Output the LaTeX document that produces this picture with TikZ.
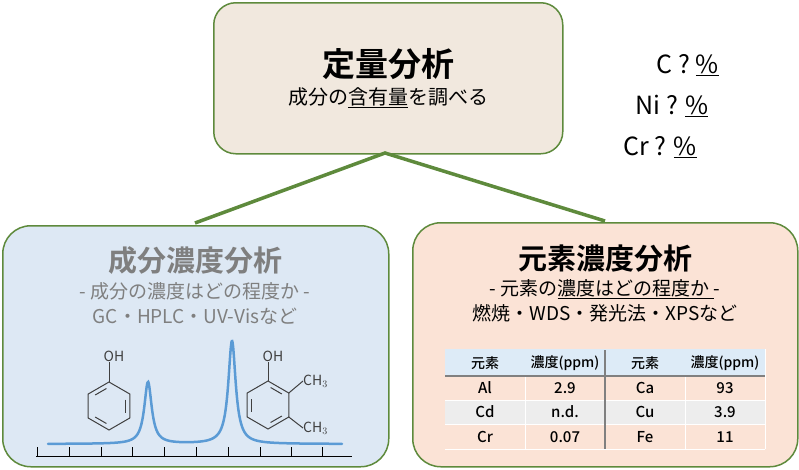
\documentclass[tikz,border=0pt]{standalone}
\usepackage{fontspec}
\setmainfont{Noto Sans CJK JP}[BoldFont={Noto Sans CJK JP Bold}]
\newfontfamily\jpm{Noto Sans CJK JP Medium}
\usetikzlibrary{calc}
\definecolor{gbord}{HTML}{5E8A3C}
\definecolor{beige}{HTML}{F1E8DE}
\definecolor{lblue}{HTML}{DDE8F4}
\definecolor{peach}{HTML}{FBE3D6}
\definecolor{hblue}{HTML}{DDEBF7}
\definecolor{rgray}{HTML}{EDEDED}
\definecolor{spec}{HTML}{5B9BD5}
\definecolor{tgray}{HTML}{7F7F7F}
\tikzset{
  panel/.style={draw=gbord,line width=1.5pt,rounded corners=28pt},
  conn/.style={draw=gbord,line width=3.5pt},
  ttl/.style={font=\fontsize{29}{33}\selectfont\bfseries},
  sub/.style={font=\fontsize{19}{22}\selectfont},
  pct/.style={font=\fontsize{25}{29}\selectfont},
  cell/.style={font=\jpm\fontsize{15}{17}\selectfont},
  hcell/.style={font=\jpm\fontsize{14}{16}\selectfont},
  bond/.style={draw=black!75,line width=1pt},
  lab/.style={font=\fontsize{14}{16}\selectfont,text=black!75,inner sep=0pt},
}
\begin{document}
\begin{tikzpicture}[x=1pt,y=-1pt]
\useasboundingbox (0,0) rectangle (799,469);
% boxes
\node[panel,fill=beige,rounded corners=22pt,minimum width=349pt,minimum height=151pt,anchor=north west] (top) at (213,2) {};
\node[panel,fill=lblue,minimum width=386pt,minimum height=241pt,anchor=north west] (left) at (2,225) {};
\node[panel,fill=peach,minimum width=385pt,minimum height=244pt,anchor=north west] (right) at (412,222) {};
\coordinate (j) at (385,153);
\coordinate (lt) at (195,223);
\coordinate (rt) at (605,221);
\draw[conn] (lt) -- (j) -- (rt);
% top texts
\node[ttl,font=\fontsize{33}{37}\selectfont\bfseries] (t1) at (388,64) {定量分析};
\node[sub,font=\fontsize{20}{23}\selectfont] (t2) at (388,98) {成分の\underline{含有量}を調べる};
\node[pct] (c) at (688,65) {C ? \underline{\%}};
\node[pct] (ni) at (672,106) {Ni ? \underline{\%}};
\node[pct] (cr) at (660,147) {Cr ? \underline{\%}};
% left texts
\node[ttl,text=tgray] (l1) at (195,261) {成分濃度分析};
\node[sub,text=tgray] (l2) at (195,291) {- 成分の濃度はどの程度か -};
\node[sub,text=tgray] (l3) at (195,316) {GC・HPLC・UV-Visなど};
% right texts
\node[ttl] (r1) at (605,259) {元素濃度分析};
\node[sub] (r2) at (605,289) {- 元素の\underline{濃度はどの程度か\ }-};
\node[sub] (r3) at (605,313) {燃焼・WDS・発光法・XPSなど};
% table
\fill[hblue] (445,349) rectangle (765,376);
\fill[peach] (445,376) rectangle (765,400);
\fill[rgray] (445,400) rectangle (765,424);
\fill[peach] (445,424) rectangle (765,449);
\draw[white,line width=0.8pt] (445,400) -- (765,400) (445,424) -- (765,424) (445,449) -- (765,449);
\draw[white,line width=0.8pt] (525,376) -- (525,449) (685,376) -- (685,449) (765,349) -- (765,449);
\draw[gray,line width=1.8pt] (445,376) -- (765,376);
\draw[gray,line width=1.8pt] (605,350) -- (605,449);
\node[hcell] (h1) at (485,363) {元素};
\node[hcell] (h2) at (565,363) {濃度(ppm)};
\node[hcell] (h3) at (645,363) {元素};
\node[hcell] (h4) at (725,363) {濃度(ppm)};
\node[cell] (a1) at (485,388) {Al};
\node[cell] (a2) at (565,388) {2.9};
\node[cell] (a3) at (645,388) {Ca};
\node[cell] (a4) at (725,388) {93};
\node[cell] (b1) at (485,412) {Cd};
\node[cell] (b2) at (565,412) {n.d.};
\node[cell] (b3) at (645,412) {Cu};
\node[cell] (b4) at (725,412) {3.9};
\node[cell] (d1) at (485,437) {Cr};
\node[cell] (d2) at (565,437) {0.07};
\node[cell] (d3) at (645,437) {Fe};
\node[cell] (d4) at (725,437) {11};
% spectrum axis
\draw[black,line width=0.8pt] (36,456) -- (352,456);
\foreach \x in {37,69,101,132,164,196,228,260,291,322}{\draw[black,line width=0.8pt] (\x,456) -- (\x,447);}
\draw[spec,line width=2.5pt,line cap=round] plot[domain=48:342,samples=400,smooth] (\x,{444-62/(1+((\x-148)/4.5)^2)-103/(1+((\x-232)/4.5)^2)});
% phenol
\coordinate (p) at (109,406);
\draw[bond] ($(p)+(30:24)$) \foreach \a in {90,150,210,270,330,30}{ -- ($(p)+(\a:24)$)};
\draw[bond,shorten <=3pt,shorten >=3pt] ($(p)+(330:19)$) -- ($(p)+(30:19)$);
\draw[bond,shorten <=3pt,shorten >=3pt] ($(p)+(90:19)$) -- ($(p)+(150:19)$);
\draw[bond,shorten <=3pt,shorten >=3pt] ($(p)+(210:19)$) -- ($(p)+(270:19)$);
\node[lab] (oh1) at (114,356) {OH};
\draw[bond] ($(p)+(270:24)$) -- (oh1.south -| 109,0);
% dimethylphenol
\coordinate (q) at (268,405);
\draw[bond] ($(q)+(30:24)$) \foreach \a in {90,150,210,270,330,30}{ -- ($(q)+(\a:24)$)};
\draw[bond,shorten <=3pt,shorten >=3pt] ($(q)+(150:19)$) -- ($(q)+(210:19)$);
\draw[bond,shorten <=3pt,shorten >=3pt] ($(q)+(30:19)$) -- ($(q)+(90:19)$);
\draw[bond,shorten <=3pt,shorten >=3pt] ($(q)+(270:19)$) -- ($(q)+(330:19)$);
\node[lab] (oh2) at (273,356) {OH};
\draw[bond] ($(q)+(270:24)$) -- (oh2.south -| 268,0);
\node[lab,anchor=west] (m1) at (303,381) {CH$_3$};
\node[lab,anchor=west] (m2) at (303,428) {CH$_3$};
\draw[bond] ($(q)+(330:24)$) -- (m1.west);
\draw[bond] ($(q)+(30:24)$) -- (m2.west);
\end{tikzpicture}
\end{document}
